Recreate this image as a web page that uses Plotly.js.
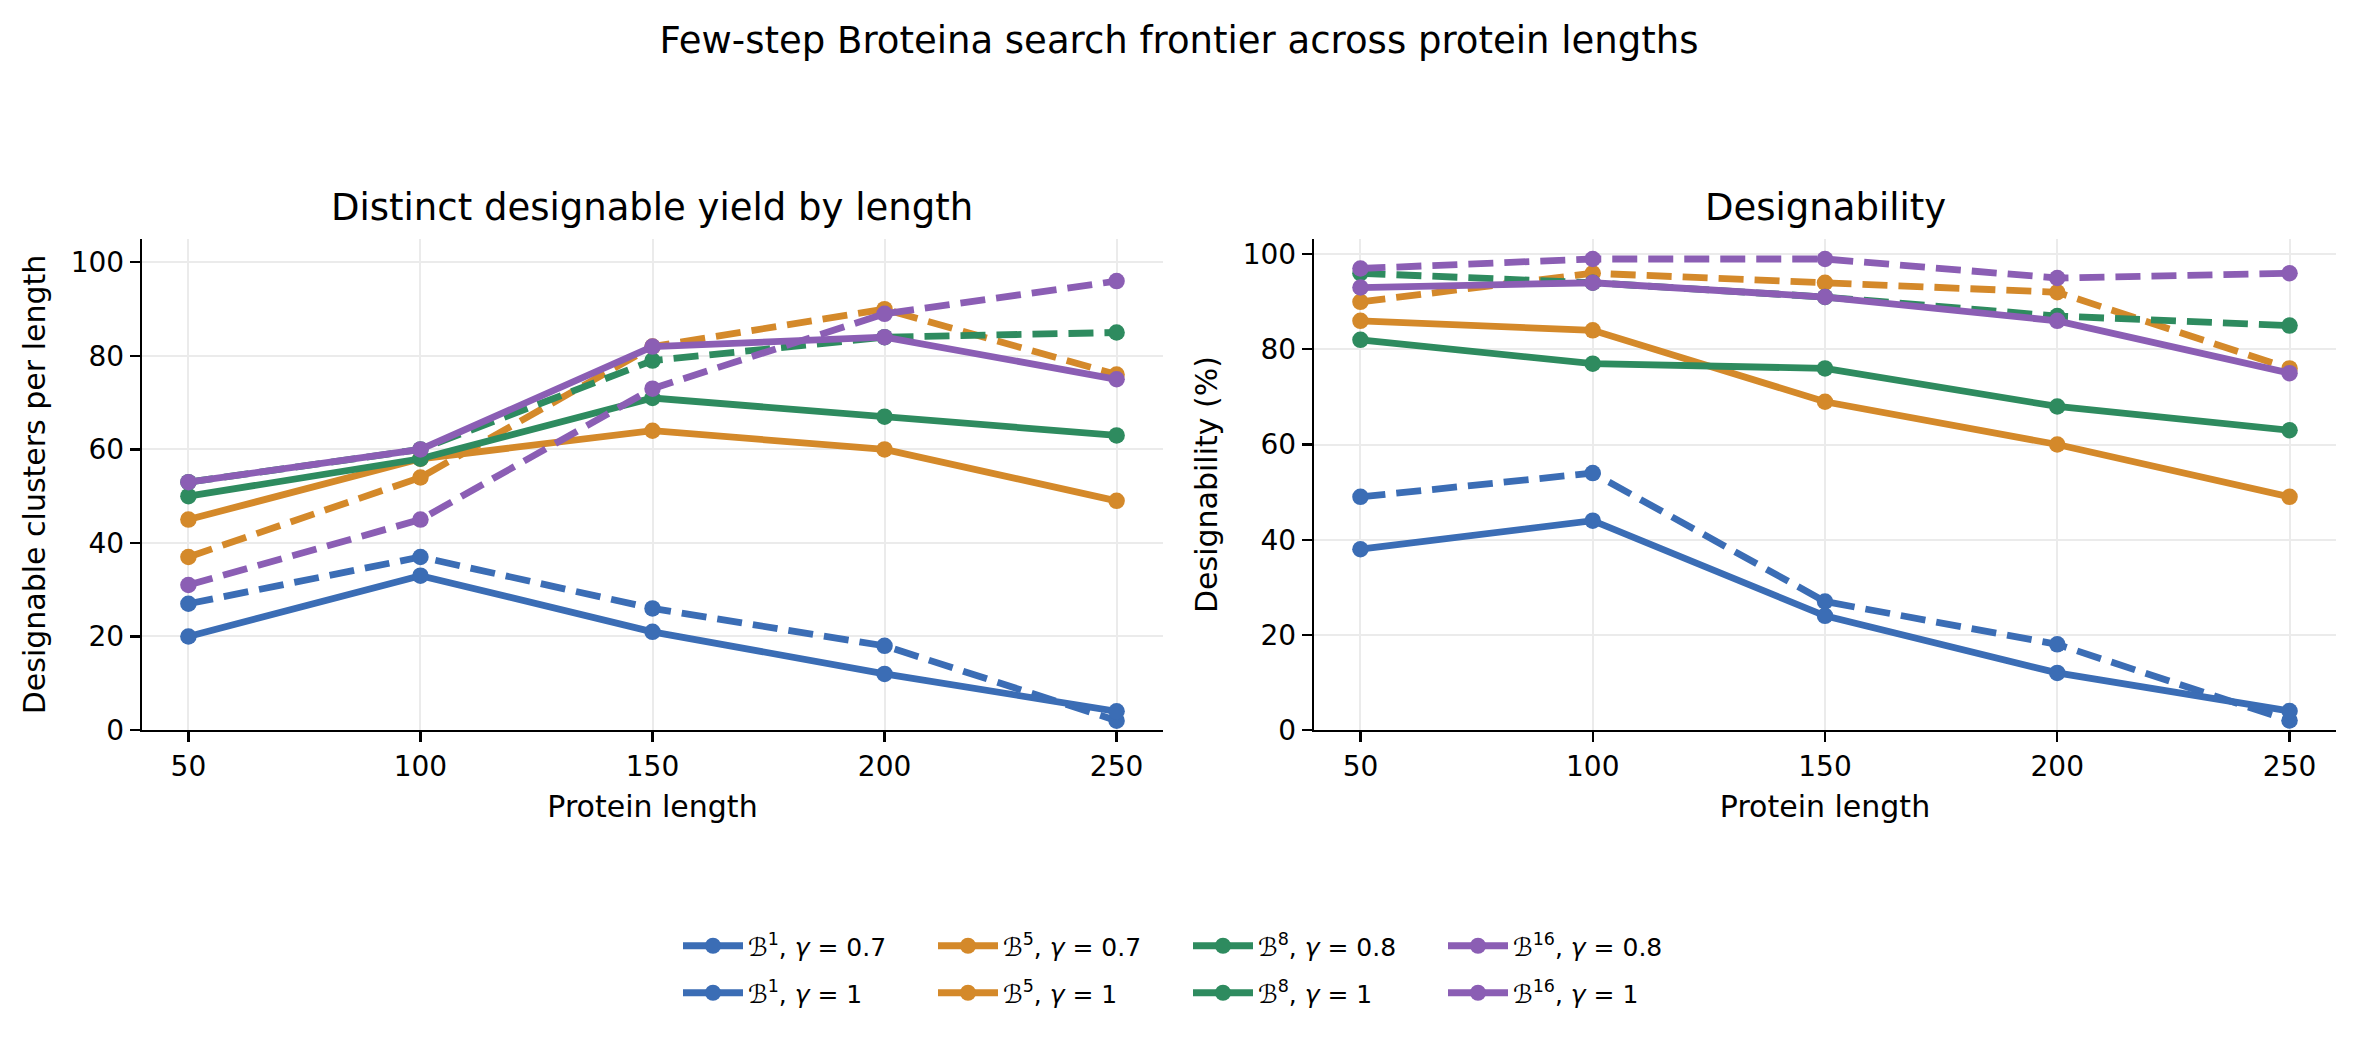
<!DOCTYPE html>
<html>
<head>
<meta charset="utf-8">
<script src="https://cdn.plot.ly/plotly-3.0.1.min.js"></script>
<style>
  html, body { margin: 0; padding: 0; background: #ffffff; }
  #chart { width: 2355px; height: 1043px; }
</style>
</head>
<body>
<div id="chart"></div>
<script>
// Protein lengths sampled on the x axis
const lengths = [50, 100, 150, 200, 250];
const xTicks = [50, 100, 150, 200, 250];

// Distinct designable clusters per length (left panel)
const clustersB1g07  = [27, 37, 26, 18, 2];
const clustersB1g1   = [20, 33, 21, 12, 4];
const clustersB5g07  = [37, 54, 82, 90, 76];
const clustersB5g1   = [45, 58, 64, 60, 49];
const clustersB8g08  = [53, 60, 79, 84, 85];
const clustersB8g1   = [50, 58, 71, 67, 63];
const clustersB16g08 = [31, 45, 73, 89, 96];
const clustersB16g1  = [53, 60, 82, 84, 75];

// Designability in percent (right panel)
const designB1g07  = [49, 54, 27, 18, 2];
const designB1g1   = [38, 44, 24, 12, 4];
const designB5g07  = [90, 96, 94, 92, 76];
const designB5g1   = [86, 84, 69, 60, 49];
const designB8g08  = [96, 94, 91, 87, 85];
const designB8g1   = [82, 77, 76, 68, 63];
const designB16g08 = [97, 99, 99, 95, 96];
const designB16g1  = [93, 94, 91, 86, 75];

// Legend labels
const labelB1g07  = "ℬ<sup>1</sup>, <i>γ</i> = 0.7";
const labelB1g1   = "ℬ<sup>1</sup>, <i>γ</i> = 1";
const labelB5g07  = "ℬ<sup>5</sup>, <i>γ</i> = 0.7";
const labelB5g1   = "ℬ<sup>5</sup>, <i>γ</i> = 1";
const labelB8g08  = "ℬ<sup>8</sup>, <i>γ</i> = 0.8";
const labelB8g1   = "ℬ<sup>8</sup>, <i>γ</i> = 1";
const labelB16g08 = "ℬ<sup>16</sup>, <i>γ</i> = 0.8";
const labelB16g1  = "ℬ<sup>16</sup>, <i>γ</i> = 1";

const BLUE = "#3b6db5", ORANGE = "#d4892a", GREEN = "#2e8b5f", PURPLE = "#8b5eb4";

// Series in drawing order; dashed = reduced gamma, solid = gamma 1
const series = [
  { name: labelB1g07,  left: clustersB1g07,  right: designB1g07,  color: BLUE,   dashed: true,  rank: 1 },
  { name: labelB1g1,   left: clustersB1g1,   right: designB1g1,   color: BLUE,   dashed: false, rank: 1 },
  { name: labelB5g07,  left: clustersB5g07,  right: designB5g07,  color: ORANGE, dashed: true,  rank: 2 },
  { name: labelB5g1,   left: clustersB5g1,   right: designB5g1,   color: ORANGE, dashed: false, rank: 2 },
  { name: labelB8g08,  left: clustersB8g08,  right: designB8g08,  color: GREEN,  dashed: true,  rank: 3 },
  { name: labelB8g1,   left: clustersB8g1,   right: designB8g1,   color: GREEN,  dashed: false, rank: 3 },
  { name: labelB16g08, left: clustersB16g08, right: designB16g08, color: PURPLE, dashed: true,  rank: 4 },
  { name: labelB16g1,  left: clustersB16g1,  right: designB16g1,  color: PURPLE, dashed: false, rank: 4 }
];

const LINE_W = 6.8, MARKER = 16.5, DASH = "25px,11px";
const traces = [];
series.forEach(s => {
  traces.push({
    type: "scatter", mode: "lines+markers", x: lengths, y: s.left,
    xaxis: "x", yaxis: "y", name: s.name,
    legend: s.dashed ? "legend" : "legend2", legendrank: s.rank, showlegend: true,
    line: { color: s.color, width: LINE_W, dash: s.dashed ? DASH : "solid" },
    marker: { color: s.color, size: MARKER },
    hoverinfo: "skip"
  });
});
series.forEach(s => {
  traces.push({
    type: "scatter", mode: "lines+markers", x: lengths, y: s.right,
    xaxis: "x2", yaxis: "y2", name: s.name, showlegend: false,
    line: { color: s.color, width: LINE_W, dash: s.dashed ? DASH : "solid" },
    marker: { color: s.color, size: MARKER },
    hoverinfo: "skip"
  });
});

const W = 2355, H = 1043;
const FONT = "DejaVu Sans";
const px = v => v / W;
const py = v => 1 - v / H;

const axisCommon = {
  showline: true, linecolor: "#000000", linewidth: 2.2,
  ticks: "outside", ticklen: 10, tickwidth: 2.2, tickcolor: "#000000",
  showgrid: true, gridcolor: "#ebebeb", gridwidth: 2,
  zeroline: false, mirror: false, automargin: false,
  tickfont: { family: FONT, size: 28, color: "#000000" }
};

const xAxisBase = Object.assign({}, axisCommon, {
  range: [40, 260], tickmode: "array", tickvals: xTicks, ticktext: xTicks.map(String),
  title: { text: "Protein length", font: { family: FONT, size: 30, color: "#000000" }, standoff: 14 }
});

const legendCommon = {
  orientation: "h", xanchor: "left", yanchor: "middle",
  itemwidth: 60, entrywidth: 180, entrywidthmode: "pixels", traceorder: "normal",
  font: { family: FONT, size: 25, color: "#000000" }, bgcolor: "rgba(0,0,0,0)", borderwidth: 0
};

const layout = {
  width: W, height: H,
  margin: { l: 0, r: 0, t: 0, b: 0 },
  paper_bgcolor: "#ffffff", plot_bgcolor: "#ffffff",
  font: { family: FONT, color: "#000000" },
  hovermode: false,
  title: {
    text: "Few-step Broteina search frontier across protein lengths",
    font: { family: FONT, size: 37, color: "#000000" },
    x: px(1179), xanchor: "center", y: py(40), yanchor: "middle", yref: "container", xref: "container"
  },
  xaxis: Object.assign({}, xAxisBase, { domain: [px(142), px(1163)], anchor: "y" }),
  yaxis: Object.assign({}, axisCommon, {
    domain: [py(730), py(239)], anchor: "x", range: [0, 105], dtick: 20, tick0: 0,
    title: { text: "Designable clusters per length", font: { family: FONT, size: 30, color: "#000000" }, standoff: 16 }
  }),
  xaxis2: Object.assign({}, xAxisBase, { domain: [px(1314), px(2336)], anchor: "y2" }),
  yaxis2: Object.assign({}, axisCommon, {
    domain: [py(730), py(239)], anchor: "x2", range: [0, 103.2], dtick: 20, tick0: 0,
    title: { text: "Designability (%)", font: { family: FONT, size: 30, color: "#000000" }, standoff: 16 }
  }),
  annotations: [
    { text: "Distinct designable yield by length", xref: "paper", yref: "paper",
      x: px(652), y: py(207), xanchor: "center", yanchor: "middle", showarrow: false,
      font: { family: FONT, size: 37, color: "#000000" } },
    { text: "Designability", xref: "paper", yref: "paper",
      x: px(1825), y: py(207), xanchor: "center", yanchor: "middle", showarrow: false,
      font: { family: FONT, size: 37, color: "#000000" } }
  ],
  legend: Object.assign({}, legendCommon, { x: px(678), y: py(946) }),
  legend2: Object.assign({}, legendCommon, { x: px(678), y: py(993) })
};

Plotly.newPlot("chart", traces, layout, { displayModeBar: false, staticPlot: true });
</script>
</body>
</html>
